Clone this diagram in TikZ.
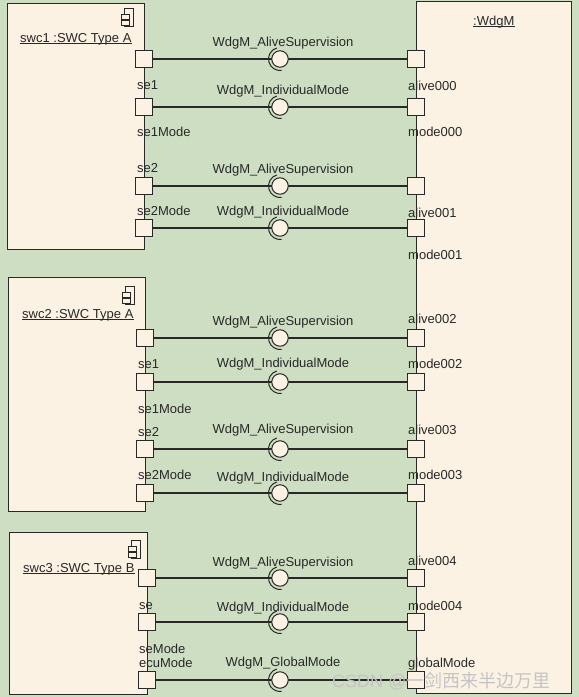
\documentclass[tikz,border=0pt]{standalone}
\usepackage{fontspec}
\setmainfont{Liberation Sans}
\newfontfamily\cjkfont{Noto Sans CJK SC}
\definecolor{bg}{RGB}{206,222,195}
\definecolor{boxfill}{RGB}{252,242,228}
\definecolor{ink}{RGB}{40,40,40}
\definecolor{wm}{RGB}{196,196,196}
\begin{document}
\begin{tikzpicture}[x=1pt,y=-1pt,
  comp/.style={draw=ink, line width=1.2pt, fill=boxfill, rectangle, inner sep=0pt, anchor=north west},
  port/.style={draw=ink, line width=1.2pt, fill=boxfill, rectangle, minimum size=17pt, inner sep=0pt},
  txt/.style={font=\fontsize{13}{15}\selectfont, text=ink, inner sep=0pt},
  plbl/.style={txt, anchor=base west},
  ilbl/.style={txt, anchor=base},
  ttl/.style={txt, anchor=base west},
  ball/.style={circle, draw=ink, line width=1pt, fill=boxfill, minimum size=16.5pt, inner sep=0pt},
  conn/.style={draw=ink, line width=1.2pt},
  socket/.style={draw=ink, line width=1pt},
  icon/.pic={
    \draw[ink, line width=0.8pt, fill=boxfill] (0,0) rectangle (9,18);
    \draw[ink, line width=0.8pt, fill=boxfill] (-3,6) rectangle (5,11);
    \draw[ink, line width=0.8pt, fill=boxfill] (-3,12) rectangle (5,17);
  }]
\fill[bg] (0,0) rectangle (579,697);
\useasboundingbox (0,0) rectangle (579,697);

% components
\node[comp, minimum width=137pt, minimum height=246pt] (swc1) at (7,3) {};
\node[comp, minimum width=137pt, minimum height=234pt] (swc2) at (8,277) {};
\node[comp, minimum width=138pt, minimum height=162pt] (swc3) at (9,532) {};
\node[comp, minimum width=155pt, minimum height=692pt] (wdgm) at (416,1) {};

\pic at (124,8) {icon};
\pic at (125,286) {icon};
\pic at (131,540) {icon};

% titles
\node[ttl] (t1) at (20,42) {swc1 :SWC Type A};
\node[ttl] (t2) at (22,318) {swc2 :SWC Type A};
\node[ttl] (t3) at (23,572) {swc3 :SWC Type B};
\node[ttl] (tw) at (473,25) {:WdgM};
\foreach \t in {t1,t2,t3,tw}{
  \draw[ink, line width=0.8pt] ([yshift=-1.8pt]\t.base west) -- ([yshift=-1.8pt]\t.base east);
}

% port positions
\foreach \n/\x/\y in {s1a/144/59, s1b/144/107, s1c/144/186, s1d/144/228,
                      s2a/145/338, s2b/145/382, s2c/145/449, s2d/145/493,
                      s3a/147/578, s3b/147/622, s3c/147/680}{
  \coordinate (\n pos) at (\x,\y);
}
\foreach \n/\y in {w1a/59, w1b/107, w1c/186, w1d/228,
                   w2a/338, w2b/382, w2c/449, w2d/493,
                   w3a/578, w3b/622, w3c/680}{
  \coordinate (\n pos) at (416,\y);
}

% connectors (drawn first, ports over them)
\foreach \a/\b in {s1a/w1a, s1b/w1b, s1c/w1c, s1d/w1d,
                   s2a/w2a, s2b/w2b, s2c/w2c, s2d/w2d,
                   s3a/w3a, s3b/w3b, s3c/w3c}{
  \draw[conn] (\a pos) -- (\b pos);
}

\foreach \n in {s1a,s1b,s1c,s1d,s2a,s2b,s2c,s2d,s3a,s3b,s3c,
                w1a,w1b,w1c,w1d,w2a,w2b,w2c,w2d,w3a,w3b,w3c}{
  \node[port] (\n) at (\n pos) {};
}

% ball and socket
\foreach \n/\y in {b1a/59, b1b/107, b1c/186, b1d/228,
                   b2a/338, b2b/382, b2c/449, b2d/493,
                   b3a/578, b3b/622, b3c/680}{
  \node[ball] (\n) at (280,\y) {};
  \draw[socket] (\n.center) ++(-106:11.5) arc[start angle=-106, end angle=-278, radius=11.5];
}

% port labels
\node[plbl] at (137,89) {se1};
\node[plbl] at (137,136) {se1Mode};
\node[plbl] at (137,172) {se2};
\node[plbl] at (137,215) {se2Mode};
\node[plbl] at (138,368) {se1};
\node[plbl] at (138,413) {se1Mode};
\node[plbl] at (138,436) {se2};
\node[plbl] at (138,479) {se2Mode};
\node[plbl] at (139,609) {se};
\node[plbl] at (139,653) {seMode};
\node[plbl] at (139,667) {ecuMode};

\node[plbl] at (408,90) {alive000};
\node[plbl] at (408,136) {mode000};
\node[plbl] at (408,217) {alive001};
\node[plbl] at (408,259) {mode001};
\node[plbl] at (408,323) {alive002};
\node[plbl] at (408,368) {mode002};
\node[plbl] at (408,434) {alive003};
\node[plbl] at (408,479) {mode003};
\node[plbl] at (408,565) {alive004};
\node[plbl] at (408,610) {mode004};
\node[plbl] at (408,667) {globalMode};

% interface labels
\node[ilbl] at (283,46) {WdgM\_AliveSupervision};
\node[ilbl] at (283,94) {WdgM\_IndividualMode};
\node[ilbl] at (283,173) {WdgM\_AliveSupervision};
\node[ilbl] at (283,215) {WdgM\_IndividualMode};
\node[ilbl] at (283,325) {WdgM\_AliveSupervision};
\node[ilbl] at (283,367) {WdgM\_IndividualMode};
\node[ilbl] at (283,433) {WdgM\_AliveSupervision};
\node[ilbl] at (283,481) {WdgM\_IndividualMode};
\node[ilbl] at (283,566) {WdgM\_AliveSupervision};
\node[ilbl] at (283,611) {WdgM\_IndividualMode};
\node[ilbl] at (283,666) {WdgM\_GlobalMode};

% watermark
\node[anchor=base west, inner sep=0pt, text=wm, font=\fontsize{18}{20}\selectfont] (wmark) at (332,687) {CSDN @{\cjkfont 一剑西来半边万里}};
\end{tikzpicture}
\end{document}
